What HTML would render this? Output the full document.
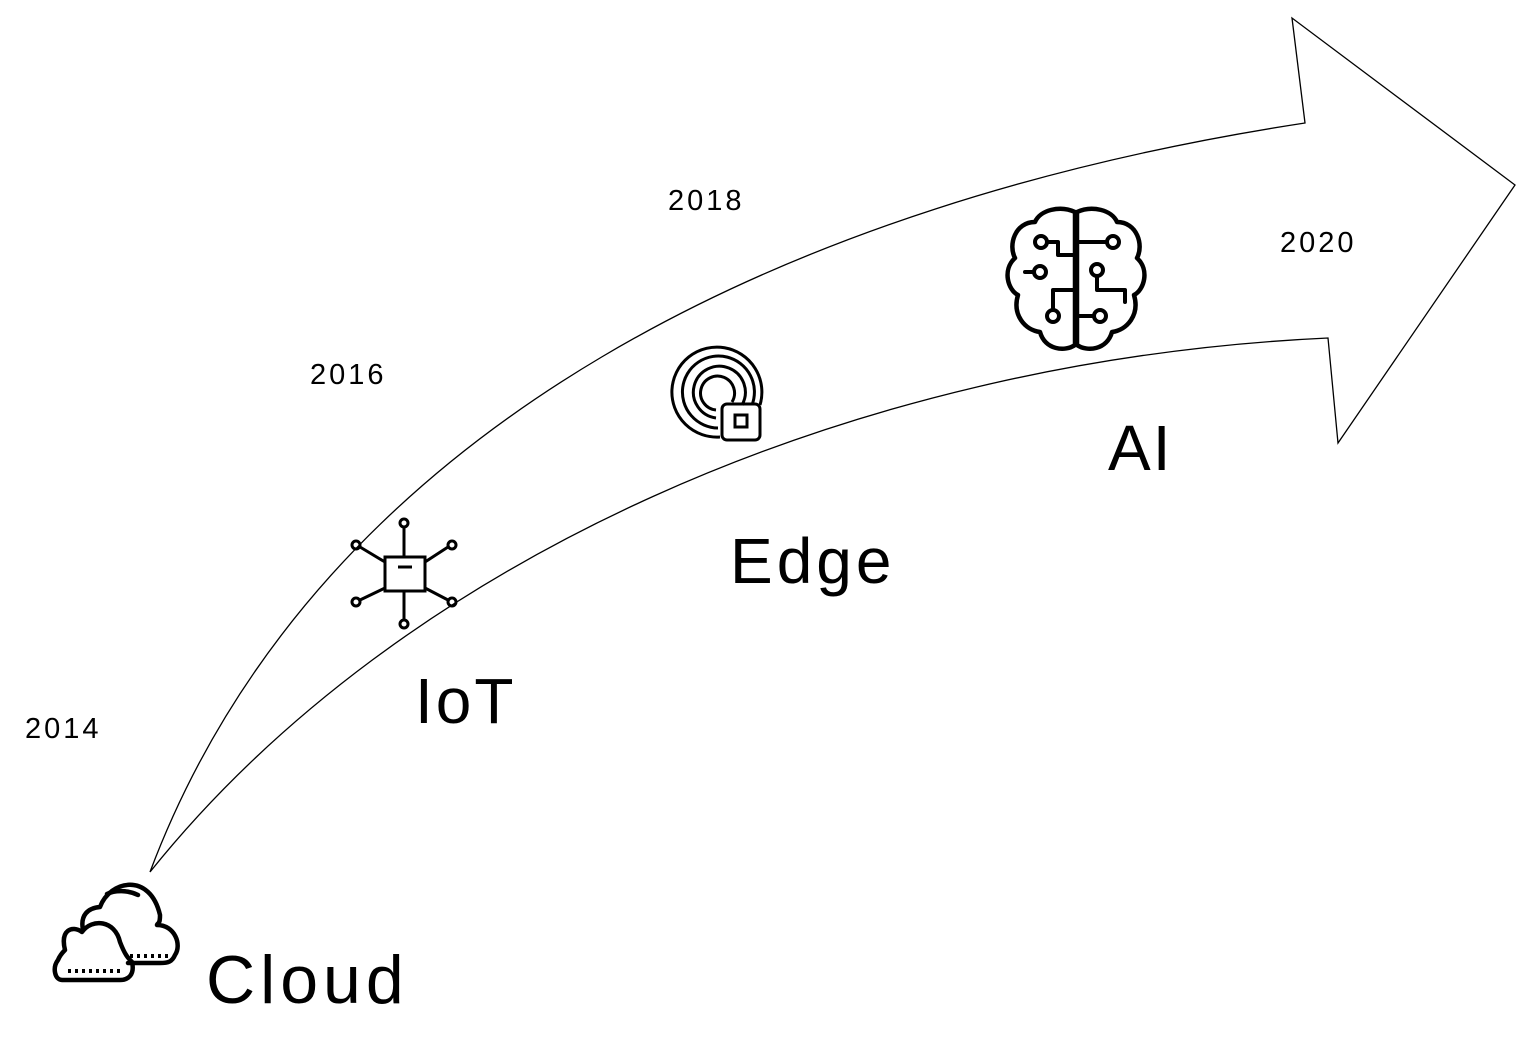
<!DOCTYPE html>
<html><head><style>
body{margin:0;width:1537px;height:1045px;background:#fff;overflow:hidden}
svg{position:absolute;left:0;top:0}
text{font-family:"Liberation Sans",sans-serif;fill:#000}
</style></head><body>
<svg width="1537" height="1045" viewBox="0 0 1537 1045">
<path d="M150,872 C320,420 800,200 1305,123 L1292,18 L1515,185 L1338,443 L1328,338 C850,360 400,560 150,872 Z" fill="none" stroke="#000" stroke-width="1.3"/>
<text x="25" y="738" font-size="29" letter-spacing="3">2014</text>
<text x="310" y="384" font-size="29" letter-spacing="3">2016</text>
<text x="668" y="210" font-size="29" letter-spacing="3">2018</text>
<text x="1280" y="252" font-size="29" letter-spacing="3">2020</text>
<text x="206" y="1003" font-size="68" letter-spacing="5">Cloud</text>
<text x="415" y="723" font-size="64" letter-spacing="3">IoT</text>
<text x="730" y="583" font-size="64" letter-spacing="4">Edge</text>
<text x="1108" y="470" font-size="64" letter-spacing="2">AI</text>
<!-- cloud -->
<g fill="none" stroke="#000" stroke-width="4.5" stroke-linecap="round" stroke-linejoin="round">
<path d="M83,930 C80,915 88,908 100,907 C110,880 150,872 160,915 C160,925 158,922 157,925 C175,925 182,945 175,955 C172,962 168,963 160,963 L128,963"/>
<path d="M65,950 C60,930 72,925 82,932 C92,918 115,920 120,942 C125,955 128,958 132,962 C135,975 128,980 120,980 L62,980 C55,980 52,968 58,960 C60,955 63,952 65,950Z"/>
<path d="M107,894 C115,890 128,890 138,895"/>
</g>
<g stroke="#000" stroke-width="4" stroke-dasharray="3,4"><line x1="68" y1="971" x2="122" y2="971"/><line x1="130" y1="956" x2="168" y2="956"/></g>
<!-- IoT -->
<g fill="none" stroke="#000" stroke-width="3">
<rect x="385" y="557" width="40" height="34"/>
<line x1="398" y1="567" x2="412" y2="567"/>
<line x1="404" y1="527" x2="404" y2="557"/><line x1="404" y1="591" x2="404" y2="620"/>
<line x1="360" y1="547" x2="385" y2="562"/><line x1="360" y1="600" x2="385" y2="588"/>
<line x1="448" y1="547" x2="425" y2="562"/><line x1="448" y1="600" x2="425" y2="588"/>
<circle cx="404" cy="523" r="4"/><circle cx="404" cy="624" r="4"/>
<circle cx="356" cy="545" r="4"/><circle cx="356" cy="602" r="4"/>
<circle cx="452" cy="545" r="4"/><circle cx="452" cy="602" r="4"/>
</g>
<!-- Edge -->
<g fill="none" stroke="#000" stroke-width="3">
<path d="M720,437 A45,45 0 1 1 760,405"/>
<path d="M718,428 A36,36 0 1 1 752,405"/>
<path d="M716,418 A26,26 0 1 1 742,405"/>
<path d="M716,410 A17,17 0 1 1 732,402"/>
<rect x="722" y="404" width="38" height="36" rx="5"/>
<rect x="735" y="415" width="12" height="12"/>
</g>
<!-- brain -->
<g fill="none" stroke="#000" stroke-width="4.5" stroke-linecap="round" stroke-linejoin="round">
<path d="M1075,212 C1060,205 1040,210 1035,222 C1015,222 1008,245 1015,258 C1002,270 1008,290 1018,295 C1012,315 1025,330 1040,332 C1045,350 1065,352 1075,345 Z"/>
<path d="M1077,212 C1092,205 1112,210 1117,222 C1137,222 1144,245 1137,258 C1150,270 1144,290 1134,295 C1140,315 1127,330 1112,332 C1107,350 1087,352 1077,345 Z"/>
</g>
<g fill="none" stroke="#000" stroke-width="4" stroke-linecap="round" stroke-linejoin="round">
<circle cx="1041" cy="242" r="6"/><path d="M1047,242 H1058 V255 H1075"/>
<circle cx="1040" cy="272" r="6"/><path d="M1034,272 H1025"/>
<circle cx="1053" cy="316" r="6"/><path d="M1053,310 V290 H1075"/>
<circle cx="1113" cy="242" r="6"/><path d="M1107,242 H1077"/>
<circle cx="1097" cy="270" r="6"/><path d="M1097,276 V290 H1125 V302"/>
<circle cx="1100" cy="316" r="6"/><path d="M1094,316 H1077"/>
</g>
</svg>
</body></html>
